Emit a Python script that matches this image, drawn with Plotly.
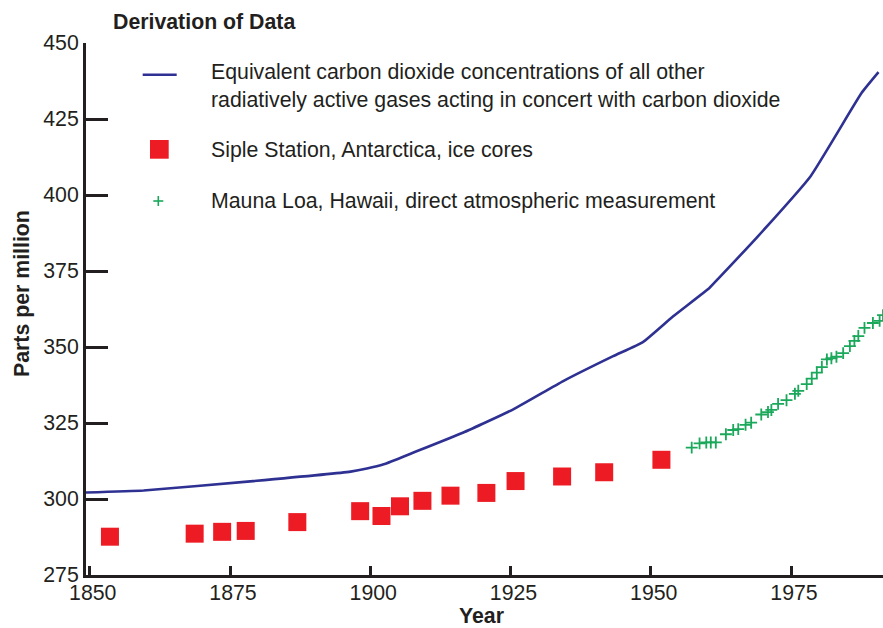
import plotly.graph_objects as go

# Equivalent CO2 of all radiatively active gases acting together with CO2
equiv_years = [1849.0, 1859.6, 1878.6, 1896.5, 1899.4, 1902.4, 1907.6, 1916.5, 1925.5,
               1934.4, 1943.3, 1948.6, 1954.0, 1960.5, 1962.0, 1969.1, 1978.5, 1987.6, 1990.6]
equiv_ppm = [302.1, 302.8, 305.8, 309.0, 310.0, 311.4, 315.2, 321.8, 329.5,
             338.8, 347.0, 351.6, 360.1, 369.5, 372.4, 386.4, 406.2, 433.6, 440.4]

# Siple Station ice-core CO2
siple_years = [1853.6, 1868.7, 1873.6, 1877.8, 1887.0, 1898.2, 1902.0, 1905.3,
               1909.3, 1914.3, 1920.7, 1925.9, 1934.2, 1941.7, 1951.9]
siple_ppm = [287.6, 288.6, 289.2, 289.5, 292.4, 296.0, 294.4, 297.6,
             299.4, 301.1, 302.0, 305.9, 307.4, 308.8, 312.9]

# Mauna Loa direct atmospheric CO2
mauna_years = [1957.3, 1958.7, 1959.9, 1960.7, 1961.6, 1963.4, 1964.7, 1965.6, 1966.9,
               1967.9, 1969.7, 1970.9, 1971.5, 1972.7, 1974.2, 1975.7, 1976.3, 1977.8,
               1978.7, 1979.6, 1980.5, 1981.4, 1982.2, 1983.1, 1984.3, 1985.5, 1986.3,
               1987.0, 1988.1, 1989.6, 1990.8, 1991.4]
mauna_ppm = [316.9, 318.3, 318.6, 318.6, 318.6, 321.3, 322.7, 323.0, 324.4,
             325.1, 327.8, 328.6, 329.3, 331.3, 332.5, 334.6, 335.6, 337.8,
             339.6, 341.6, 343.4, 345.9, 346.3, 346.8, 348.0, 350.3, 352.0,
             353.6, 356.3, 357.9, 358.6, 360.5]

x_ticks = [1850, 1875, 1900, 1925, 1950, 1975]
y_ticks = [275, 300, 325, 350, 375, 400, 425, 450]

x_title = "Year"
y_title = "Parts per million"
legend_title = "Derivation of Data"
legend_labels = [
    "Equivalent carbon dioxide concentrations of all other<br>radiatively active gases acting in concert with carbon dioxide",
    "Siple Station, Antarctica, ice cores",
    "Mauna Loa, Hawaii, direct atmospheric measurement",
]

NAVY = "#2e3192"
RED = "#ed1c24"
GREEN = "#1aa85a"
INK = "#231f20"
FONT = "Arial, Liberation Sans, sans-serif"
FS = 21.3

W, H = 883, 628
L, R, T, B = 86, 0, 43, 53
PW, PH = W - L - R, H - T - B


def px_x(px):
    return (px - L) / PW


def px_y(py):
    return (H - B - py) / PH


fig = go.Figure()
fig.add_trace(go.Scatter(x=equiv_years, y=equiv_ppm, mode="lines",
                         line=dict(color=NAVY, width=2.6, shape="spline", smoothing=0.4),
                         name=legend_labels[0]))
fig.add_trace(go.Scatter(x=siple_years, y=siple_ppm, mode="markers",
                         marker=dict(symbol="square", size=18, color=RED, line=dict(width=0)),
                         name=legend_labels[1]))
fig.add_trace(go.Scatter(x=mauna_years, y=mauna_ppm, mode="markers",
                         marker=dict(symbol="cross-thin", size=8.5,
                                     line=dict(color=GREEN, width=1.8)),
                         name=legend_labels[2]))

axis_common = dict(showline=True, linewidth=3, linecolor=INK, ticks="inside",
                   tickwidth=3, tickcolor=INK, showgrid=False, zeroline=False,
                   automargin=False,
                   tickfont=dict(family=FONT, size=FS, color=INK))

fig.update_xaxes(range=[1849.33, 1991.4], tickmode="array", tickvals=x_ticks,
                 ticklen=9, ticklabelstandoff=-4, ticklabelshift=3, **axis_common)
fig.update_yaxes(range=[275, 450], tickmode="array", tickvals=y_ticks,
                 ticklen=22, **axis_common)

annotations = [
    dict(text="<b>" + x_title + "</b>", x=px_x(481), y=px_y(616),
         xanchor="center", yanchor="middle"),
    dict(text="<b>" + y_title + "</b>", textangle=-90, x=px_x(22), y=px_y(294),
         xanchor="center", yanchor="middle"),
    dict(text="<b>" + legend_title + "</b>", x=px_x(111), y=px_y(22),
         xanchor="left", yanchor="middle"),
    dict(text=legend_labels[0], x=px_x(209), y=px_y(86.5), align="left",
         xanchor="left", yanchor="middle"),
    dict(text=legend_labels[1], x=px_x(209), y=px_y(149.6),
         xanchor="left", yanchor="middle"),
    dict(text=legend_labels[2], x=px_x(209), y=px_y(200.6),
         xanchor="left", yanchor="middle"),
]
for a in annotations:
    a.update(xref="paper", yref="paper", showarrow=False,
             font=dict(family=FONT, size=FS, color=INK))

shapes = [
    dict(type="line", x0=px_x(142.7), x1=px_x(176.7), y0=px_y(74.7), y1=px_y(74.7),
         line=dict(color=NAVY, width=2.6)),
    dict(type="rect", x0=px_x(150), x1=px_x(168.7), y0=px_y(140), y1=px_y(158.7),
         fillcolor=RED, line=dict(width=0)),
    dict(type="line", x0=px_x(153.3), x1=px_x(163.3), y0=px_y(201), y1=px_y(201),
         line=dict(color=GREEN, width=1.6)),
    dict(type="line", x0=px_x(158.3), x1=px_x(158.3), y0=px_y(196), y1=px_y(206),
         line=dict(color=GREEN, width=1.6)),
]
for s in shapes:
    s.update(xref="paper", yref="paper")

fig.update_layout(width=W, height=H, margin=dict(l=L, r=R, t=T, b=B),
                  plot_bgcolor="white", paper_bgcolor="white", showlegend=False,
                  font=dict(family=FONT, size=FS, color=INK),
                  annotations=annotations, shapes=shapes)

fig.write_html("out.html")
